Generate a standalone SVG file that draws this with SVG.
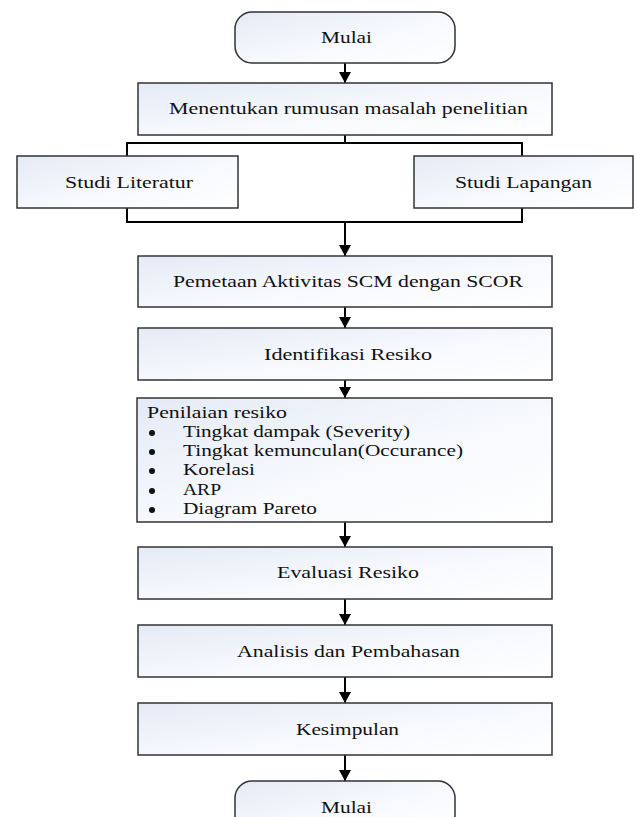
<svg xmlns="http://www.w3.org/2000/svg" width="636" height="817" viewBox="0 0 636 817">
<defs>
<linearGradient id="g" x1="0" y1="0" x2="1" y2="1">
<stop offset="0" stop-color="#e4eaf6"/>
<stop offset="0.55" stop-color="#f7f9fd"/>
<stop offset="1" stop-color="#ffffff"/>
</linearGradient>
<marker id="ah" markerUnits="userSpaceOnUse" markerWidth="11" markerHeight="12" refX="11" refY="6" orient="auto">
<path d="M0,0 L11,6 L0,12 z" fill="#000"/>
</marker>
<style>
.box{fill:url(#g);stroke:#333;stroke-width:1.5}
text{font-family:'Liberation Serif','Times New Roman',Times,serif;font-size:17px;fill:#111}
.c{text-anchor:middle}
.ln{fill:none;stroke:#000;stroke-width:2}
.dot{fill:#111}
</style>
</defs>
<rect width="636" height="817" fill="#fff"/>
<g id="connectors">
<line class="ln" x1="345" y1="63" x2="345" y2="83" marker-end="url(#ah)"/>
<polyline class="ln" points="345,135 345,143"/>
<polyline class="ln" points="127,156 127,143 522,143 522,156"/>
<polyline class="ln" points="127,208 127,222 522,222 522,208"/>
<line class="ln" x1="345" y1="222" x2="345" y2="256" marker-end="url(#ah)"/>
<line class="ln" x1="345" y1="307" x2="345" y2="328" marker-end="url(#ah)"/>
<line class="ln" x1="345" y1="380" x2="345" y2="398" marker-end="url(#ah)"/>
<line class="ln" x1="345" y1="522" x2="345" y2="547" marker-end="url(#ah)"/>
<line class="ln" x1="345" y1="599" x2="345" y2="625" marker-end="url(#ah)"/>
<line class="ln" x1="345" y1="677" x2="345" y2="703" marker-end="url(#ah)"/>
<line class="ln" x1="345" y1="755" x2="345" y2="781" marker-end="url(#ah)"/>
</g>
<g id="start">
<rect class="box" x="235" y="12" width="220" height="51" rx="17"/>
<text class="c" x="346.5" y="43" textLength="51" lengthAdjust="spacingAndGlyphs">Mulai</text>
</g>
<g id="rumusan">
<rect class="box" x="138" y="83" width="414" height="52"/>
<text class="c" x="348.5" y="114" textLength="359" lengthAdjust="spacingAndGlyphs">Menentukan rumusan masalah penelitian</text>
</g>
<g id="literatur">
<rect class="box" x="17" y="156" width="221" height="52"/>
<text class="c" x="129" y="188" textLength="128" lengthAdjust="spacingAndGlyphs">Studi Literatur</text>
</g>
<g id="lapangan">
<rect class="box" x="414" y="156" width="219" height="52"/>
<text class="c" x="523.5" y="188" textLength="137" lengthAdjust="spacingAndGlyphs">Studi Lapangan</text>
</g>
<g id="pemetaan">
<rect class="box" x="138" y="256" width="414" height="51"/>
<text class="c" x="348" y="287" textLength="350" lengthAdjust="spacingAndGlyphs">Pemetaan Aktivitas SCM dengan SCOR</text>
</g>
<g id="identifikasi">
<rect class="box" x="138" y="328" width="414" height="52"/>
<text class="c" x="348" y="360" textLength="168" lengthAdjust="spacingAndGlyphs">Identifikasi Resiko</text>
</g>
<g id="penilaian">
<rect class="box" x="137" y="398" width="415" height="124"/>
<text x="147" y="418" textLength="140" lengthAdjust="spacingAndGlyphs">Penilaian resiko</text>
<circle class="dot" cx="152" cy="433" r="3"/>
<circle class="dot" cx="152" cy="452" r="3"/>
<circle class="dot" cx="152" cy="471" r="3"/>
<circle class="dot" cx="152" cy="491" r="3"/>
<circle class="dot" cx="152" cy="510" r="3"/>
<text x="183" y="437" textLength="227" lengthAdjust="spacingAndGlyphs">Tingkat dampak (Severity)</text>
<text x="183" y="456" textLength="280" lengthAdjust="spacingAndGlyphs">Tingkat kemunculan(Occurance)</text>
<text x="183" y="475" textLength="72" lengthAdjust="spacingAndGlyphs">Korelasi</text>
<text x="183" y="495" textLength="38" lengthAdjust="spacingAndGlyphs">ARP</text>
<text x="183" y="514" textLength="134" lengthAdjust="spacingAndGlyphs">Diagram Pareto</text>
</g>
<g id="evaluasi">
<rect class="box" x="138" y="547" width="414" height="52"/>
<text class="c" x="348" y="578" textLength="142" lengthAdjust="spacingAndGlyphs">Evaluasi Resiko</text>
</g>
<g id="analisis">
<rect class="box" x="138" y="625" width="414" height="52"/>
<text class="c" x="348.5" y="657" textLength="223" lengthAdjust="spacingAndGlyphs">Analisis dan Pembahasan</text>
</g>
<g id="kesimpulan">
<rect class="box" x="138" y="703" width="414" height="52"/>
<text class="c" x="347.5" y="735" textLength="103" lengthAdjust="spacingAndGlyphs">Kesimpulan</text>
</g>
<g id="end">
<rect class="box" x="235" y="781" width="220" height="51" rx="17"/>
<text class="c" x="346.5" y="813" textLength="51" lengthAdjust="spacingAndGlyphs">Mulai</text>
</g>
</svg>
